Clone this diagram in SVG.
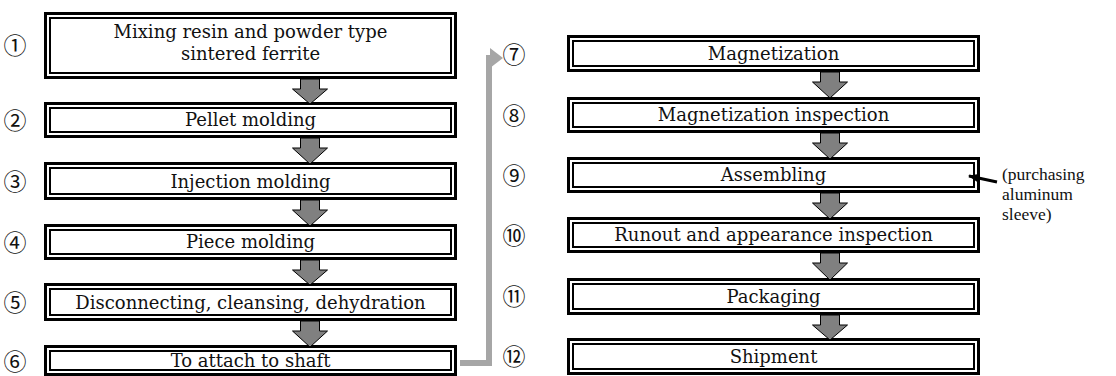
<svg xmlns="http://www.w3.org/2000/svg" width="1116" height="376" viewBox="0 0 1116 376">
  <style>
    .outer { fill: #ffffff; stroke: #000000; stroke-width: 3; }
    .inner { fill: none; stroke: #000000; stroke-width: 2; }
    .label { font-family: "DejaVu Serif", "Liberation Serif", serif; font-size: 18px; fill: #111111; text-anchor: middle; }
    .num { font-family: "Noto Sans CJK JP", "DejaVu Sans", sans-serif; font-size: 23px; fill: #111111; text-anchor: middle; }
    .note { font-family: "Liberation Serif", serif; font-size: 17.5px; fill: #111111; }
    .step { fill: #808080; stroke: #000000; stroke-width: 1; }
  </style>
  <defs>
    <marker id="blackHead" markerWidth="10" markerHeight="8" refX="9" refY="4" orient="auto" markerUnits="userSpaceOnUse">
      <path d="M0,0 L10,4 L0,8 Z" fill="#000000"/>
    </marker>
  </defs>
  <rect width="1116" height="376" fill="#ffffff"/>

  <!-- left column -->
  <g id="step1">
    <rect class="outer" x="45.5" y="13.5" width="410" height="64"/>
    <rect class="inner" x="50" y="18" width="401" height="55"/>
    <text class="label" x="250.5" y="38">Mixing resin and powder type</text>
    <text class="label" x="250.5" y="60">sintered ferrite</text>
    <text class="num" x="15" y="54">①</text>
  </g>
  <g id="step2">
    <rect class="outer" x="45.5" y="103.5" width="410" height="33"/>
    <rect class="inner" x="50" y="108" width="401" height="24"/>
    <text class="label" x="250.5" y="126">Pellet molding</text>
    <text class="num" x="15" y="129">②</text>
  </g>
  <g id="step3">
    <rect class="outer" x="45.5" y="163.5" width="410" height="35"/>
    <rect class="inner" x="50" y="168" width="401" height="26"/>
    <text class="label" x="250.5" y="188">Injection molding</text>
    <text class="num" x="15" y="190">③</text>
  </g>
  <g id="step4">
    <rect class="outer" x="45.5" y="225.5" width="410" height="33"/>
    <rect class="inner" x="50" y="230" width="401" height="24"/>
    <text class="label" x="250.5" y="248">Piece molding</text>
    <text class="num" x="15" y="251">④</text>
  </g>
  <g id="step5">
    <rect class="outer" x="45.5" y="284.5" width="410" height="35"/>
    <rect class="inner" x="50" y="289" width="401" height="26"/>
    <text class="label" x="250.5" y="309">Disconnecting, cleansing, dehydration</text>
    <text class="num" x="15" y="311">⑤</text>
  </g>
  <g id="step6">
    <rect class="outer" x="45.5" y="346.5" width="410" height="28"/>
    <rect class="inner" x="50" y="351" width="401" height="19"/>
    <text class="label" x="250.5" y="367">To attach to shaft</text>
    <text class="num" x="15" y="370">⑥</text>
  </g>

  <!-- right column -->
  <g id="step7">
    <rect class="outer" x="568.5" y="36.5" width="410" height="34"/>
    <rect class="inner" x="573" y="41" width="401" height="25"/>
    <text class="label" x="773.5" y="60">Magnetization</text>
    <text class="num" x="514" y="63">⑦</text>
  </g>
  <g id="step8">
    <rect class="outer" x="568.5" y="98.5" width="410" height="33"/>
    <rect class="inner" x="573" y="103" width="401" height="24"/>
    <text class="label" x="773.5" y="121">Magnetization inspection</text>
    <text class="num" x="514" y="124">⑧</text>
  </g>
  <g id="step9">
    <rect class="outer" x="568.5" y="158.5" width="410" height="33"/>
    <rect class="inner" x="573" y="163" width="401" height="24"/>
    <text class="label" x="773.5" y="181">Assembling</text>
    <text class="num" x="514" y="184">⑨</text>
  </g>
  <g id="step10">
    <rect class="outer" x="568.5" y="218.5" width="410" height="33"/>
    <rect class="inner" x="573" y="223" width="401" height="24"/>
    <text class="label" x="773.5" y="241">Runout and appearance inspection</text>
    <text class="num" x="514" y="244">⑩</text>
  </g>
  <g id="step11">
    <rect class="outer" x="568.5" y="279.5" width="410" height="34"/>
    <rect class="inner" x="573" y="284" width="401" height="25"/>
    <text class="label" x="773.5" y="303">Packaging</text>
    <text class="num" x="514" y="305">⑪</text>
  </g>
  <g id="step12">
    <rect class="outer" x="568.5" y="339.5" width="410" height="34"/>
    <rect class="inner" x="573" y="344" width="401" height="25"/>
    <text class="label" x="773.5" y="363">Shipment</text>
    <text class="num" x="514" y="365">⑫</text>
  </g>

  <g id="supply-note">
    <text class="note" x="1002" y="180">(purchasing</text>
    <text class="note" x="1002" y="200">aluminum</text>
    <text class="note" x="1002" y="220">sleeve)</text>
  </g>

  <!-- connectors -->
  <g id="connectors">
    <!-- left column block arrows -->
    <polygon class="step" points="300.5,79 319.5,79 319.5,89 327.5,89 310,104 292.5,89 300.5,89"/>
    <polygon class="step" points="300.5,138 319.5,138 319.5,148 327.5,148 310,164 292.5,148 300.5,148"/>
    <polygon class="step" points="300.5,200 319.5,200 319.5,210 327.5,210 310,226 292.5,210 300.5,210"/>
    <polygon class="step" points="300.5,260 319.5,260 319.5,270 327.5,270 310,285 292.5,270 300.5,270"/>
    <polygon class="step" points="300.5,321 319.5,321 319.5,331 327.5,331 310,347 292.5,331 300.5,331"/>
    <!-- right column block arrows -->
    <polygon class="step" points="820.5,72 839.5,72 839.5,82 847.5,82 830,98 812.5,82 820.5,82"/>
    <polygon class="step" points="820.5,133 839.5,133 839.5,143 847.5,143 830,159 812.5,143 820.5,143"/>
    <polygon class="step" points="820.5,193 839.5,193 839.5,203 847.5,203 830,219 812.5,203 820.5,203"/>
    <polygon class="step" points="820.5,253 839.5,253 839.5,263 847.5,263 830,280 812.5,263 820.5,263"/>
    <polygon class="step" points="820.5,315 839.5,315 839.5,325 847.5,325 830,340 812.5,325 820.5,325"/>
    <!-- transfer from step 6 to step 7 -->
    <polyline points="460,363 489,363 489,58 493,58" fill="none" stroke="#a6a6a6" stroke-width="6"/>
    <polygon points="490,48 503,58 490,68" fill="#a6a6a6"/>
    <!-- supplied part into assembling -->
    <line x1="997" y1="182" x2="969" y2="176" stroke="#000000" stroke-width="3" marker-end="url(#blackHead)"/>
  </g>
</svg>
